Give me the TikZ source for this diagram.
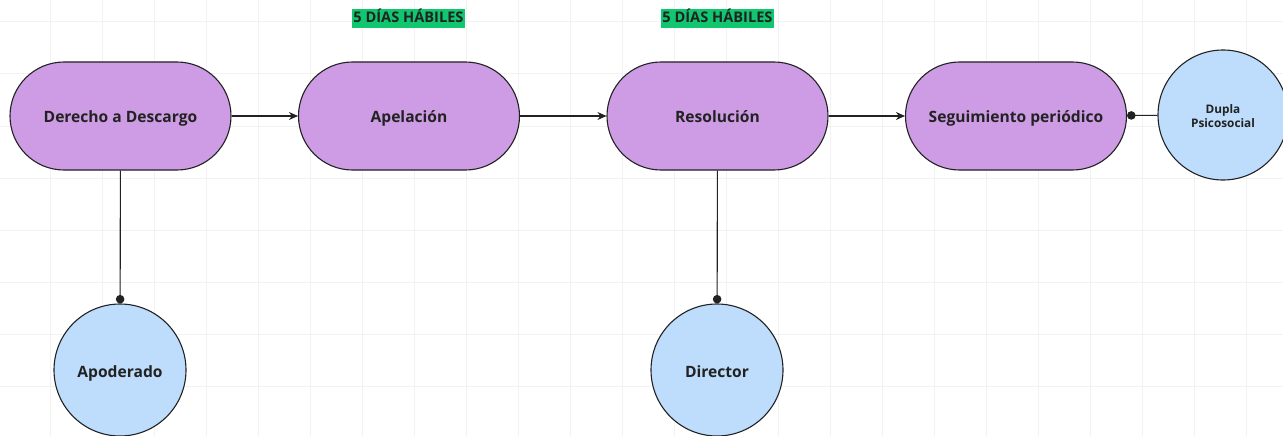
\documentclass[tikz,border=0pt]{standalone}
\usepackage{fontspec}
\setmainfont{Open Sans}[BoldFont={* Bold}]
\usetikzlibrary{arrows.meta}
\definecolor{purp}{HTML}{CE9CE4}
\definecolor{lblue}{HTML}{BEDDFC}
\definecolor{grn}{HTML}{10C66E}
\definecolor{ink}{HTML}{222222}
\definecolor{gridc}{HTML}{F2F2F2}
\begin{document}
\begin{tikzpicture}[x=1pt,y=-1pt,
  stadium/.style={draw=ink, line width=1.1pt, fill=purp, rounded corners=54pt,
     minimum width=221pt, minimum height=108pt, inner sep=0pt,
     text height=0.71em+6pt, text depth=0pt,
     font=\bfseries\fontsize{15.6}{18}\selectfont, text=ink},
  person/.style={draw=ink, line width=1.1pt, fill=lblue, circle, minimum size=132pt,
     inner sep=0pt, font=\bfseries\fontsize{15.6}{18}\selectfont, text=ink, align=center},
  tag/.style={fill=grn, inner xsep=1.5pt, inner ysep=0pt, text=ink,
     text height=14pt, text depth=5pt,
     font=\bfseries\fontsize{14.6}{16}\selectfont},
  conn/.style={draw=ink, line width=1.1pt},
  arr/.style={conn, -{Stealth[length=9pt,width=8pt]}},
  dotend/.style={conn, -{Circle[length=8.5pt]}},
  dotstart/.style={conn, {Circle[length=8.5pt]}-}]
\useasboundingbox (0,0) rectangle (1283,436);
\fill[white] (0,0) rectangle (1283,436);
\foreach \gx in {50,102,...,1283} \draw[gridc, line width=1pt] (\gx,0) -- (\gx,436);
\foreach \gy in {22,74,...,436} \draw[gridc, line width=1pt] (0,\gy) -- (1283,\gy);

\node[stadium] (der) at (120.5,116) {Derecho a Descargo};
\node[stadium] (ape) at (409,116) {Apelación};
\node[stadium] (res) at (717.5,116) {Resolución};
\node[stadium] (seg) at (1016,116) {Seguimiento periódico};

\node[person, minimum size=130pt, font=\bfseries\fontsize{11.8}{15.5}\selectfont] (dup) at (1223,115) {\raisebox{0pt}[\dimexpr\height+5pt\relax]{\begin{tabular}{@{}c@{}}Dupla\\[-1pt]Psicosocial\end{tabular}}};
\node[person, text height=0.71em+8pt, text depth=0pt] (apo) at (120,370) {Apoderado};
\node[person, text height=0.71em+8pt, text depth=0pt] (dir) at (717,370) {Director};

\node[tag] (t1) at (408.5,18.5) {5 DÍAS HÁBILES};
\node[tag] (t2) at (717.5,18.5) {5 DÍAS HÁBILES};

\draw[arr] (der) -- (ape);
\draw[arr] (ape) -- (res);
\draw[arr] (res) -- (seg);
\draw[dotstart] (seg) -- (dup);
\draw[dotend] (der) -- (apo);
\draw[dotend] (res) -- (dir);
\end{tikzpicture}
\end{document}
